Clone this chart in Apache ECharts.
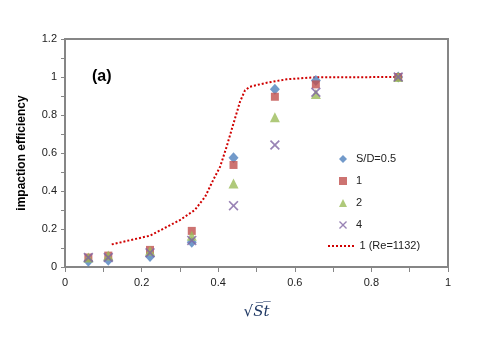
<!DOCTYPE html>
<html><head><meta charset="utf-8">
<script src="https://cdn.jsdelivr.net/npm/echarts@6/dist/echarts.min.js"></script>
<style>html,body{margin:0;padding:0;background:#fff}#c{width:480px;height:360px}</style>
</head><body><div id="c"></div>
<script>
const xValues = [0.061, 0.113, 0.222, 0.331, 0.44, 0.548, 0.655, 0.870];
const sd05 = [0.03, 0.035, 0.055, 0.13, 0.575, 0.935, 0.981, 1.0];
const sd1 = [0.05, 0.06, 0.09, 0.19, 0.537, 0.896, 0.961, 1.0];
const sd2 = [0.05, 0.06, 0.085, 0.165, 0.44, 0.788, 0.91, 1.0];
const sd4 = [0.05, 0.05, 0.075, 0.14, 0.323, 0.642, 0.92, 1.0];
const reX = [0.122, 0.222, 0.300, 0.339, 0.366, 0.387, 0.405, 0.422, 0.44, 0.457, 0.47, 0.483, 0.527, 0.579, 0.648, 0.870];
const reY = [0.119, 0.165, 0.247, 0.30, 0.37, 0.458, 0.528, 0.633, 0.756, 0.87, 0.93, 0.949, 0.97, 0.988, 0.998, 1.0];
const seriesNames = ['S/D=0.5', '1', '2', '4', '1 (Re=1132)'];

const pair = (xs, ys) => xs.map((x, i) => [x, ys[i]]);
const xPath = 'path://M0,1.2 L1.2,0 L5,3.8 L8.8,0 L10,1.2 L6.2,5 L10,8.8 L8.8,10 L5,6.2 L1.2,10 L0,8.8 L3.8,5 Z';
const dotIcon = 'path://M0,0h2v2h-2z M4,0h2v2h-2z M8,0h2v2h-2z M12,0h2v2h-2z M16,0h2v2h-2z M20,0h2v2h-2z M24,0h2v2h-2z';

const chart = echarts.init(document.getElementById('c'), null, {renderer: 'canvas'});
const font = 'Liberation Sans, Arial, sans-serif';
const axisLabelStyle = {color: '#222', fontSize: 11, fontFamily: font};
const legendText = {fontSize: 11, color: '#222', lineHeight: 14, fontFamily: font};
chart.setOption({
  animation: false,
  backgroundColor: '#fff',
  grid: {left: 65, right: 32, top: 39, bottom: 93, show: true, borderColor: '#868686', borderWidth: 2, backgroundColor: 'transparent'},
  xAxis: {
    type: 'value', min: 0, max: 1, interval: 0.2,
    axisLine: {show: true, lineStyle: {color: '#868686', width: 2}},
    axisTick: {show: true, inside: false, length: 5, lineStyle: {color: '#868686'}},
    minorTick: {show: true, splitNumber: 2, length: 5, lineStyle: {color: '#868686'}},
    splitLine: {show: false},
    axisLabel: Object.assign({margin: 10}, axisLabelStyle),
    name: '\u221AS\u0305t\u0305', nameLocation: 'middle', nameGap: 38,
    nameTextStyle: {fontFamily: 'DejaVu Serif, serif', fontStyle: 'italic', fontSize: 15, color: '#1F3864'}
  },
  yAxis: {
    type: 'value', min: 0, max: 1.2, interval: 0.2,
    axisLine: {show: true, lineStyle: {color: '#868686', width: 2}},
    axisTick: {show: true, inside: false, length: 4, lineStyle: {color: '#868686'}},
    minorTick: {show: true, splitNumber: 2, length: 4, lineStyle: {color: '#868686'}},
    splitLine: {show: false},
    axisLabel: Object.assign({margin: 8}, axisLabelStyle),
    name: 'impaction efficiency', nameLocation: 'middle', nameGap: 37,
    nameTextStyle: {fontWeight: 'bold', fontSize: 12, color: '#000', fontFamily: font}
  },
  legend: [{
    orient: 'vertical', left: 334, top: 147,
    itemWidth: 8, itemHeight: 8, itemGap: 8,
    textStyle: Object.assign({padding: [0, 0, 0, 4]}, legendText),
    data: seriesNames.slice(0, 4)
  }, {
    orient: 'vertical', left: 323, top: 234,
    itemWidth: 27, itemHeight: 2,
    textStyle: legendText,
    data: [{name: seriesNames[4], icon: dotIcon}]
  }],
  graphic: [{
    type: 'text', left: 92, top: 69,
    style: {text: '(a)', font: 'bold 16px Liberation Sans, Arial, sans-serif', fill: '#000'}
  }],
  series: [
    {name: seriesNames[0], type: 'scatter', symbol: 'diamond', symbolSize: [10, 11], itemStyle: {color: '#4F81BD'}, data: pair(xValues, sd05), z: 2},
    {name: seriesNames[1], type: 'scatter', symbol: 'rect', symbolSize: 8, itemStyle: {color: '#C0504D'}, data: pair(xValues, sd1), z: 3},
    {name: seriesNames[2], type: 'scatter', symbol: 'triangle', symbolSize: [10, 10], itemStyle: {color: '#9BBB59'}, data: pair(xValues, sd2), z: 4},
    {name: seriesNames[3], type: 'scatter', symbol: xPath, symbolSize: 10, itemStyle: {color: '#8064A2'}, data: pair(xValues, sd4), z: 5},
    {name: seriesNames[4], type: 'line', symbol: 'none', smooth: false, lineStyle: {color: '#D00000', width: 2, type: [2, 2]}, itemStyle: {color: '#D00000'}, data: pair(reX, reY), z: 1}
  ]
});
</script></body></html>
